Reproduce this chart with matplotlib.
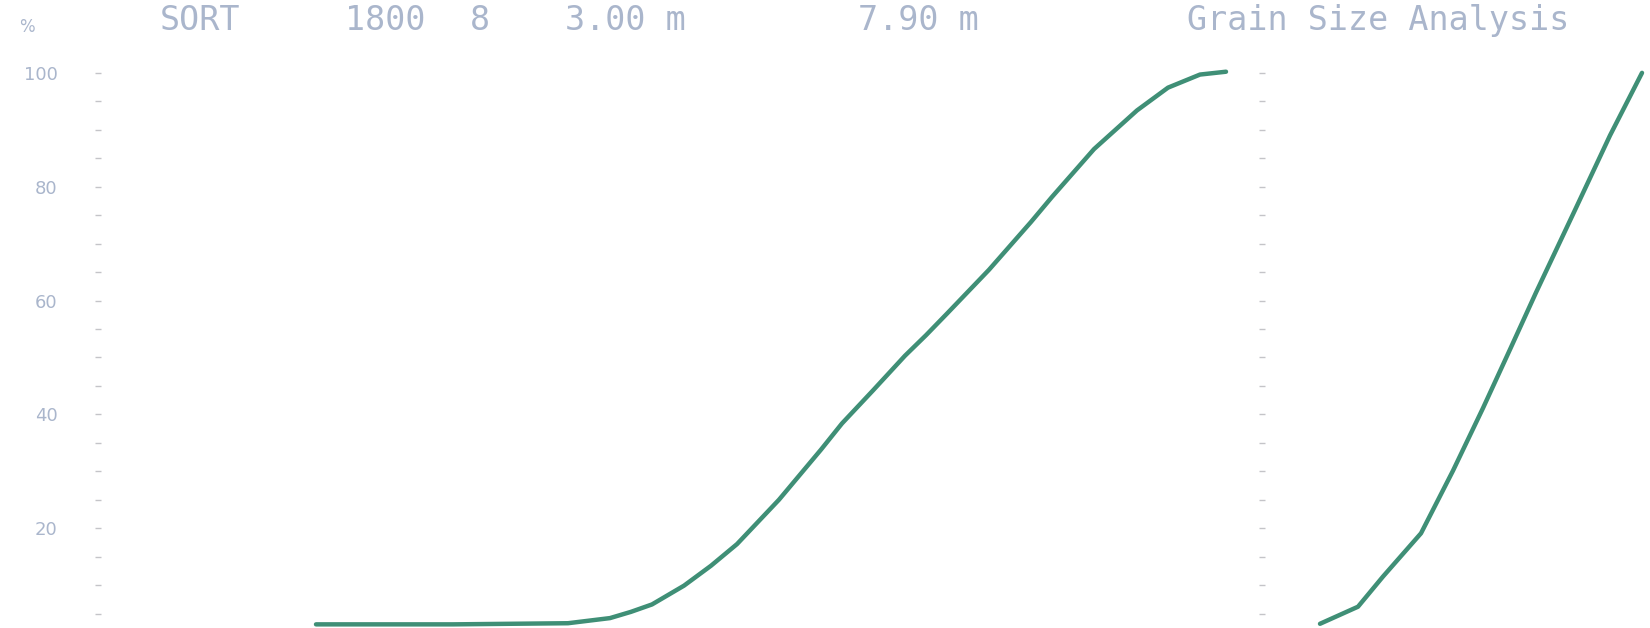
import matplotlib.pyplot as plt

# passing % (cumulative) vs. position along the sieve scale
left_x = [2.21, 3.58, 4.73, 5.15, 5.36, 5.57, 5.89, 6.16, 6.42, 6.84, 7.26, 7.47,
          7.78, 8.10, 8.31, 8.52, 8.94, 9.36, 9.57, 9.99, 10.42, 10.73, 11.05, 11.31]
left_pct = [3.1, 3.1, 3.3, 4.2, 5.3, 6.6, 9.9, 13.4, 17.2, 25.0, 33.8, 38.4,
            44.2, 50.3, 53.9, 57.7, 65.4, 73.8, 78.2, 86.6, 93.4, 97.4, 99.7, 100.2]

right_x = [0.55, 0.93, 1.18, 1.56, 1.88, 2.18, 2.45, 2.71, 3.10, 3.45, 3.77]
right_pct = [3.2, 6.2, 11.5, 19.1, 30.1, 41.1, 51.4, 61.4, 75.9, 89.0, 100.0]

y_labels = [20, 40, 60, 80, 100]
header = [("SORT", 160), ("1800", 345), ("8", 470), ("3.00 m", 565),
          ("7.90 m", 858), ("Grain Size Analysis", 1187)]

line_col = '#3f8f76'
text_col = '#aab6cc'
tick_col = '#c4c4c8'
W, H = 1650, 628

fig = plt.figure(figsize=(16.5, 6.28), dpi=100)
fig.patch.set_facecolor('white')

ax1 = fig.add_axes([95 / W, 0, (1240 - 95) / W, 1])
ax2 = fig.add_axes([1265 / W, 0, (W - 1265) / W, 1])

ax1.plot(left_x, left_pct, color=line_col, lw=3.2, solid_capstyle='round',
         solid_joinstyle='round')
ax2.plot(right_x, right_pct, color=line_col, lw=3.2, solid_capstyle='round',
         solid_joinstyle='round')

ax1.set_xlim(0, 11.45)
ax2.set_xlim(0, 3.85)
for ax in (ax1, ax2):
    ax.set_ylim(2.46, 112.8)
    ax.set_facecolor('none')
    for s in ax.spines.values():
        s.set_visible(False)
    ax.set_xticks([])
    ax.set_yticks(range(5, 101, 5), minor=True)
    ax.tick_params(axis='y', which='both', direction='in', color=tick_col,
                   length=4, width=1)

ax1.set_yticks(y_labels)
ax1.set_yticklabels([str(v) for v in y_labels])
ax1.tick_params(axis='y', which='major', labelsize=13, labelcolor=text_col, pad=27)
ax2.set_yticks([])
ax2.tick_params(axis='y', which='minor', direction='out')

fig.text(19 / W, 1 - 27 / H, "%", fontsize=12, color=text_col, ha='left', va='center')
for txt, xpos in header:
    fig.text(xpos / W, 1 - 30 / H, txt, fontsize=24, family='DejaVu Sans Mono',
             color=text_col, ha='left', va='baseline')

plt.savefig('out.png', dpi=100)
plt.close()
